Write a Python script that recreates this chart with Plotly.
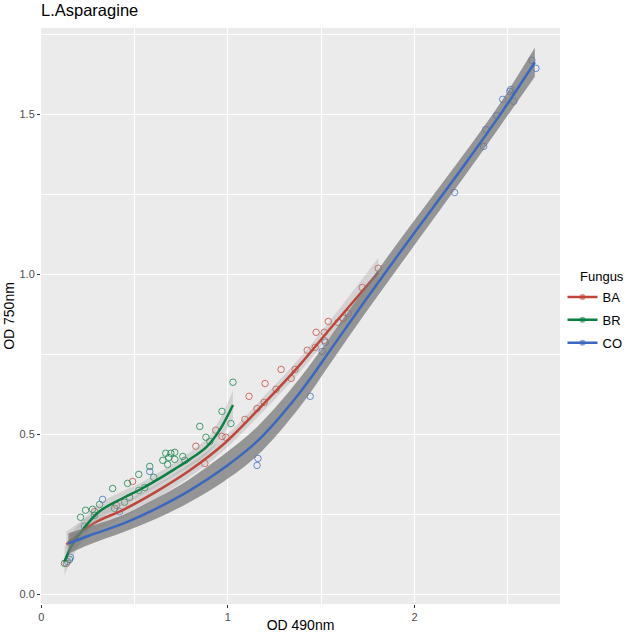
import plotly.graph_objects as go

# scatter points
ba_x = [1.806, 1.720, 1.645, 1.618, 1.591, 1.538, 1.473, 1.516, 1.516, 1.468, 1.425, 1.285,
        1.360, 1.339, 1.199, 1.258, 1.113, 1.194, 1.156, 1.091, 0.935, 0.968, 0.989, 0.828,
        0.876, 0.489, 0.403, 0.285, 0.134]
ba_y = [1.019, 0.959, 0.878, 0.863, 0.850, 0.853, 0.819, 0.819, 0.794, 0.772, 0.763, 0.703,
        0.703, 0.675, 0.659, 0.641, 0.619, 0.600, 0.581, 0.547, 0.513, 0.494, 0.491, 0.463,
        0.409, 0.353, 0.278, 0.259, 0.097]

br_x = [1.027, 0.968, 1.016, 0.849, 0.882, 0.903, 0.667, 0.694, 0.715, 0.683, 0.651, 0.715,
        0.677, 0.758, 0.769, 0.581, 0.602, 0.522, 0.462, 0.382, 0.554, 0.522, 0.473, 0.446,
        0.392, 0.312, 0.274, 0.237, 0.210, 0.285, 0.124, 0.151]
br_y = [0.663, 0.572, 0.534, 0.525, 0.491, 0.478, 0.441, 0.441, 0.444, 0.428, 0.419, 0.422,
        0.406, 0.431, 0.419, 0.400, 0.366, 0.375, 0.347, 0.331, 0.334, 0.325, 0.303, 0.288,
        0.269, 0.281, 0.266, 0.263, 0.241, 0.247, 0.097, 0.109]

co_x = [2.629, 2.651, 2.516, 2.511, 2.473, 2.532, 2.441, 2.382, 2.371, 2.215, 1.522, 1.505,
        1.441, 1.161, 1.156, 0.581, 0.328, 0.419, 0.231, 0.156, 0.140]
co_y = [1.669, 1.644, 1.578, 1.572, 1.547, 1.541, 1.497, 1.453, 1.400, 1.256, 0.788, 0.759,
        0.619, 0.425, 0.403, 0.384, 0.297, 0.259, 0.213, 0.116, 0.103]

# loess curves and their standard error bands
ba_fit_x = [0.134, 0.280, 0.441, 0.618, 0.796, 0.978, 1.199, 1.382, 1.559, 1.806]
ba_fit_y = [0.156, 0.222, 0.265, 0.322, 0.388, 0.470, 0.600, 0.715, 0.838, 1.006]
ba_fit_se = [0.040, 0.030, 0.025, 0.022, 0.020, 0.020, 0.022, 0.022, 0.026, 0.045]

br_fit_x = [0.124, 0.161, 0.231, 0.312, 0.441, 0.527, 0.618, 0.710, 0.796, 0.887, 0.957, 1.027]
br_fit_y = [0.103, 0.150, 0.209, 0.260, 0.302, 0.327, 0.357, 0.390, 0.422, 0.462, 0.515, 0.592]
br_fit_se = [0.045, 0.040, 0.030, 0.025, 0.022, 0.020, 0.020, 0.020, 0.022, 0.025, 0.032, 0.045]

co_fit_x = [0.145, 0.258, 0.441, 0.618, 0.796, 0.978, 1.156, 1.382, 1.559, 1.737, 1.919,
            2.097, 2.280, 2.460, 2.645]
co_fit_y = [0.159, 0.184, 0.222, 0.269, 0.325, 0.395, 0.478, 0.628, 0.772, 0.919, 1.066,
            1.207, 1.352, 1.500, 1.663]
co_fit_se = [0.032, 0.028, 0.027, 0.032, 0.036, 0.042, 0.045, 0.045, 0.042, 0.040, 0.040,
             0.038, 0.036, 0.036, 0.045]

groups = [
    ("BA", ba_x, ba_y, ba_fit_x, ba_fit_y, ba_fit_se, "#C0463A", "rgba(153,153,153,0.3)"),
    ("BR", br_x, br_y, br_fit_x, br_fit_y, br_fit_se, "#0B8043", "rgba(153,153,153,0.3)"),
    ("CO", co_x, co_y, co_fit_x, co_fit_y, co_fit_se, "#3A68C0", "rgba(120,120,120,0.75)"),
]

fig = go.Figure()

for name, px_, py_, _, _, _, col, _ in groups:
    fig.add_trace(go.Scatter(x=px_, y=py_, mode="markers", showlegend=False,
                             marker=dict(symbol="circle-open", size=6.5, color=col,
                                         opacity=0.75, line=dict(width=1))))

for name, _, _, fx, fy, se, col, band in groups:
    lo = [y - s for y, s in zip(fy, se)]
    hi = [y + s for y, s in zip(fy, se)]
    fig.add_trace(go.Scatter(x=fx, y=lo, mode="lines", line=dict(width=0, shape="spline"),
                             showlegend=False, hoverinfo="skip"))
    fig.add_trace(go.Scatter(x=fx, y=hi, mode="lines", line=dict(width=0, shape="spline"),
                             fill="tonexty", fillcolor=band,
                             showlegend=False, hoverinfo="skip"))
    fig.add_trace(go.Scatter(x=fx, y=fy, mode="lines", showlegend=False,
                             line=dict(color=col, width=2.5, shape="spline")))

# legend entries
for name, _, _, _, _, _, col, _ in groups:
    fig.add_trace(go.Scatter(x=[None], y=[None], mode="lines+markers", name=name,
                             legendgroup=name,
                             line=dict(color=col, width=2.5),
                             marker=dict(symbol="circle", size=6, color=col, opacity=0.6)))

axis_common = dict(showgrid=True, gridcolor="white", gridwidth=1.1, zeroline=False,
                   ticks="outside", ticklen=3, tickcolor="#333333", automargin=False,
                   tickfont=dict(size=11, color="#4D4D4D"), showline=False)

fig.update_layout(
    width=625, height=633,
    margin=dict(l=41, r=65, t=28, b=29),
    paper_bgcolor="white", plot_bgcolor="#EBEBEB",
    font=dict(family="Liberation Sans, Arial, sans-serif", color="black"),
    title=dict(text="L.Asparagine", x=41 / 625, xanchor="left", y=1, yanchor="top",
               pad=dict(t=4), font=dict(size=16.5)),
    xaxis=dict(range=[-0.002, 2.78], tick0=0, dtick=1, tickformat="d",
               title=dict(text="OD 490nm", font=dict(size=14), standoff=3),
               minor=dict(showgrid=True, gridcolor="white", gridwidth=0.5, dtick=0.5, tick0=0),
               **axis_common),
    yaxis=dict(range=[-0.03, 1.77], tick0=0, dtick=0.5, tickformat=".1f",
               title=dict(text="OD 750nm", font=dict(size=14), standoff=1),
               minor=dict(showgrid=True, gridcolor="white", gridwidth=0.5, dtick=0.25, tick0=0),
               **axis_common),
    legend=dict(xref="container", yref="container", x=0.9, xanchor="left",
                y=0.4945, yanchor="middle",
                font=dict(size=13), bgcolor="rgba(0,0,0,0)", itemwidth=30,
                tracegroupgap=3),
    annotations=[dict(text="Fungus", xref="paper", yref="paper", x=1.0347, y=0.569,
                      xanchor="left", yanchor="middle", showarrow=False,
                      font=dict(size=13))],
)

fig.write_html("out.html", config={"displayModeBar": False},
               post_script="document.body.style.margin='0';")
